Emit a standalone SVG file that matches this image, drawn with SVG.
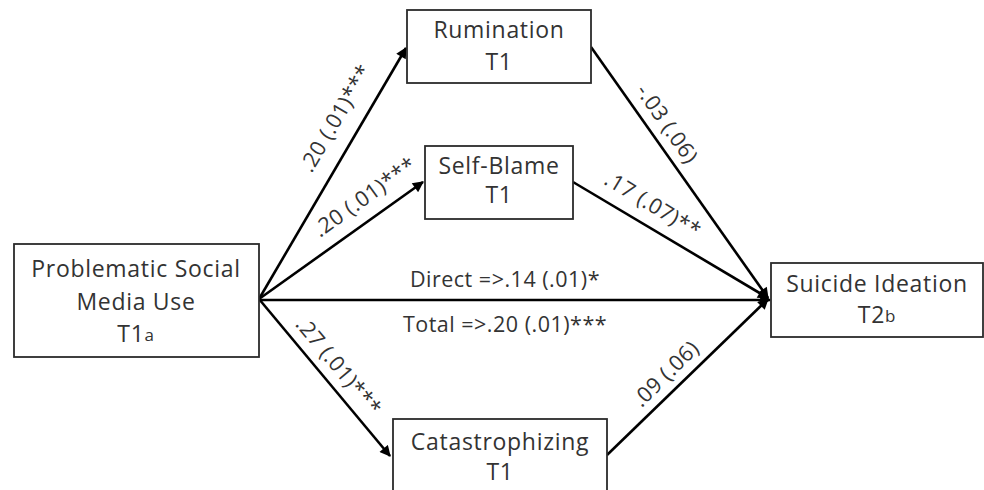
<svg xmlns="http://www.w3.org/2000/svg" width="984" height="490" viewBox="0 0 984 490">
<style>
.box{fill:#fff;stroke:#2b2b2b;stroke-width:1.8}
.t{font-family:"Open Sans","Liberation Sans",sans-serif;font-size:23px;fill:#333;text-anchor:middle;letter-spacing:0.7px}
.sup{font-size:17px}
.lbl{font-family:"Open Sans","Liberation Sans",sans-serif;font-size:21.5px;fill:#333;text-anchor:middle;letter-spacing:0.5px}
.c{stroke:#000;stroke-width:2.6;fill:none;marker-end:url(#ah)}
</style>
<defs>
<marker id="ah" viewBox="0 0 10 10" markerUnits="userSpaceOnUse" markerWidth="12" markerHeight="11" refX="9" refY="5" orient="auto">
<path d="M0,0 L10,5 L0,10 z" fill="#000"/>
</marker>
</defs>
<rect width="984" height="490" fill="#fff"/>
<g id="connectors">
<line class="c" x1="259" y1="299" x2="406" y2="48"/>
<line class="c" x1="259" y1="299" x2="423" y2="182"/>
<line class="c" x1="259" y1="300" x2="770" y2="300"/>
<line class="c" x1="259" y1="299" x2="390" y2="456"/>
<line class="c" x1="591" y1="47" x2="768" y2="298"/>
<line class="c" x1="573" y1="182" x2="768" y2="298"/>
<line class="c" x1="607" y1="455" x2="768" y2="299"/>
<text class="lbl" transform="translate(342,122) rotate(-59.6)">.20 (.01)***</text>
<text class="lbl" transform="translate(369,203) rotate(-35.5)">.20 (.01)***</text>
<text class="lbl" transform="translate(661,128) rotate(55.3)">-.03 (.06)</text>
<text class="lbl" transform="translate(649,211) rotate(31.1)">.17 (.07)**</text>
<text class="lbl" transform="translate(333,371) rotate(50.2)">.27 (.01)***</text>
<text class="lbl" transform="translate(671,379) rotate(-44.8)">.09 (.06)</text>
<text class="lbl" x="505" y="287">Direct =&gt;.14 (.01)*</text>
<text class="lbl" x="505" y="332">Total =&gt;.20 (.01)***</text>
</g>
<g id="psmu">
<rect class="box" x="14" y="244" width="245" height="113"/>
<text class="t" x="136" y="277">Problematic Social</text>
<text class="t" x="136" y="310">Media Use</text>
<text class="t" x="136" y="342">T1<tspan class="sup" dy="-1.5">a</tspan></text>
</g>
<g id="rumination">
<rect class="box" x="407" y="10" width="184" height="73"/>
<text class="t" x="499" y="38">Rumination</text>
<text class="t" x="499" y="70">T1</text>
</g>
<g id="selfblame">
<rect class="box" x="425" y="146" width="148" height="73"/>
<text class="t" x="499" y="174">Self-Blame</text>
<text class="t" x="499" y="203">T1</text>
</g>
<g id="suicide">
<rect class="box" x="771" y="263" width="212" height="74"/>
<text class="t" x="877" y="292">Suicide Ideation</text>
<text class="t" x="877" y="323">T2<tspan class="sup" dy="-1.5">b</tspan></text>
</g>
<g id="catastrophizing">
<rect class="box" x="393" y="419" width="214" height="90"/>
<text class="t" x="500" y="450">Catastrophizing</text>
<text class="t" x="500" y="480">T1</text>
</g>
</svg>
